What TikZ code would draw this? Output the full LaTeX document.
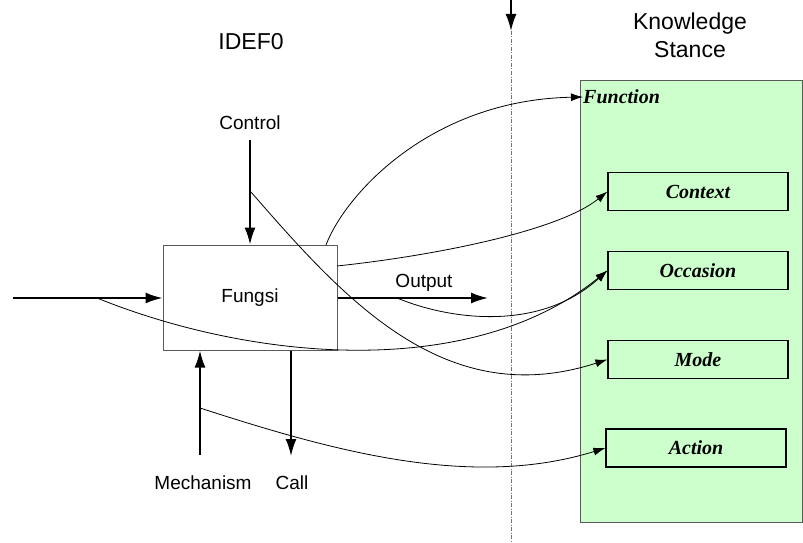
\documentclass[tikz,border=0pt]{standalone}
\usepackage{fontspec}
\setmainfont{Liberation Serif}
\setsansfont{Liberation Sans}
\usetikzlibrary{arrows.meta}
\definecolor{ksgreen}{HTML}{CCFFCC}
\definecolor{edgegray}{HTML}{5A5A5A}
\begin{document}
\begin{tikzpicture}[x=1pt,y=-1pt,
  sanslbl/.style={font=\sffamily\fontsize{19}{22}\selectfont, inner sep=0pt},
  titlelbl/.style={font=\sffamily\fontsize{23}{28}\selectfont, inner sep=0pt, align=center},
  serlbl/.style={font=\rmfamily\bfseries\itshape\fontsize{20}{24}\selectfont, inner sep=0pt},
  sbox/.style={draw=black, line width=1.2pt, fill=ksgreen, minimum width=180pt, minimum height=38pt, inner sep=0pt,
               font=\rmfamily\bfseries\itshape\fontsize{20}{24}\selectfont},
  mainarrow/.style={line width=1.8pt, -{Latex[length=17pt,width=11pt]}},
  curvearrow/.style={line width=0.8pt, -{Latex[length=12pt,width=8pt]}}
]
\useasboundingbox (0,0) rectangle (803,543);

% Knowledge stance panel
\node[draw=edgegray, line width=1.3pt, fill=ksgreen, minimum width=222pt, minimum height=442pt,
      inner sep=0pt, anchor=north west] (ks) at (580,80) {};
\node[serlbl, anchor=west] (func) at (583,97) {Function};
\node[sbox] (ctx) at (698,191.5) {Context};
\node[sbox] (occ) at (698,270.5) {Occasion};
\node[sbox] (mode) at (698,359.5) {Mode};
\node[sbox] (act) at (696,448) {Action};

% titles
\node[titlelbl] (idef) at (251,42) {IDEF0};
\node[titlelbl] (kst) at (690,35) {Knowledge\\Stance};

% separator
\coordinate (dtop) at (511,0);
\coordinate (dmid) at (511,31);
\coordinate (dbot) at (511,543);
\draw[black!55, line width=1pt, dash pattern=on 4pt off 1.5pt on 1pt off 1.5pt] (dmid) -- (dbot);
\draw[mainarrow] (dtop) -- (dmid);

% IDEF0 box
\node[draw=edgegray, line width=1pt, minimum width=174pt, minimum height=105pt, inner sep=0pt,
      font=\sffamily\fontsize{19}{22}\selectfont] (f) at (250,297.5) {Fungsi};

\node[sanslbl] (ctl) at (250,123) {Control};
\coordinate (ctop) at (250,140);
\draw[mainarrow] (ctop) -- (f.north);

\coordinate (in) at (13,298);
\draw[mainarrow] (in) -- (f.west |- in);

\coordinate (outend) at (488,298);
\draw[mainarrow] (f.east |- outend) -- (outend);
\node[sanslbl] (outl) at (424,283) {Output};

\coordinate (mbot) at (200,455);
\draw[mainarrow] (mbot) -- (f.south -| mbot);
\coordinate (cbot) at (291,456);
\draw[mainarrow] (f.south -| cbot) -- (cbot);
\node[sanslbl] (mech) at (203,483) {Mechanism};
\node[sanslbl] (calll) at (292,483) {Call};

% mapping curves
\coordinate (s1) at (326,245);
\draw[curvearrow] (s1) .. controls (345,195) and (430,100) .. (func.west);
\coordinate (s2) at (337,266);
\draw[curvearrow] (s2) .. controls (440,255) and (560,230) .. (ctx.west);
\coordinate (s3) at (251,192);
\draw[curvearrow] (s3) .. controls (345,300) and (445,412) .. (mode.west);
\coordinate (s4) at (97,298);
\draw[curvearrow] (s4) .. controls (250,360) and (470,382) .. (occ.west);
\coordinate (s5) at (397,298);
\draw[curvearrow] (s5) .. controls (450,320) and (540,332) .. (occ.west);
\coordinate (s6) at (200,408);
\draw[curvearrow] (s6) .. controls (330,450) and (470,490) .. (act.west);
\end{tikzpicture}
\end{document}
